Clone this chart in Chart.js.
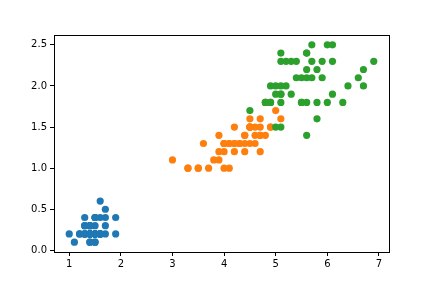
<!DOCTYPE html>
<html>
<head>
<meta charset="utf-8">
<script src="https://cdn.jsdelivr.net/npm/chart.js@4/dist/chart.umd.min.js"></script>
<style>
  html, body { margin: 0; padding: 0; background: #fff; }
  canvas { display: block; }
</style>
</head>
<body>
<canvas id="chart" width="432" height="288"></canvas>
<script>
// iris petal length (x) / petal width (y), one pair of arrays per species
var setosaLength = [1.4,1.4,1.3,1.5,1.4,1.7,1.4,1.5,1.4,1.5,1.5,1.6,1.4,1.1,1.2,1.5,1.3,1.4,1.7,1.5,1.7,1.5,1.0,1.7,1.9,1.6,1.6,1.5,1.4,1.6,1.6,1.5,1.5,1.4,1.5,1.2,1.3,1.4,1.3,1.5,1.3,1.3,1.3,1.6,1.9,1.4,1.6,1.4,1.5,1.4];
var setosaWidth  = [0.2,0.2,0.2,0.2,0.2,0.4,0.3,0.2,0.2,0.1,0.2,0.2,0.1,0.1,0.2,0.4,0.4,0.3,0.3,0.3,0.2,0.4,0.2,0.5,0.2,0.2,0.4,0.2,0.2,0.2,0.2,0.4,0.1,0.2,0.2,0.2,0.2,0.1,0.2,0.2,0.3,0.3,0.2,0.6,0.4,0.3,0.2,0.2,0.2,0.2];

var versicolorLength = [4.7,4.5,4.9,4.0,4.6,4.5,4.7,3.3,4.6,3.9,3.5,4.2,4.0,4.7,3.6,4.4,4.5,4.1,4.5,3.9,4.8,4.0,4.9,4.7,4.3,4.4,4.8,5.0,4.5,3.5,3.8,3.7,3.9,5.1,4.5,4.5,4.7,4.4,4.1,4.0,4.4,4.6,4.0,3.3,4.2,4.2,4.2,4.3,3.0,4.1];
var versicolorWidth  = [1.4,1.5,1.5,1.3,1.5,1.3,1.6,1.0,1.3,1.4,1.0,1.5,1.0,1.4,1.3,1.4,1.5,1.0,1.5,1.1,1.8,1.3,1.5,1.2,1.3,1.4,1.4,1.7,1.5,1.0,1.1,1.0,1.2,1.6,1.5,1.6,1.5,1.3,1.3,1.3,1.2,1.4,1.2,1.0,1.3,1.2,1.3,1.3,1.1,1.3];

var virginicaLength = [6.0,5.1,5.9,5.6,5.8,6.6,4.5,6.3,5.8,6.1,5.1,5.3,5.5,5.0,5.1,5.3,5.5,6.7,6.9,5.0,5.7,4.9,6.7,4.9,5.7,6.0,4.8,4.9,5.6,5.8,6.1,6.4,5.6,5.1,5.6,6.1,5.6,5.5,4.8,5.4,5.6,5.1,5.1,5.9,5.7,5.2,5.0,5.2,5.4,5.1];
var virginicaWidth  = [2.5,1.9,2.1,1.8,2.2,2.1,1.7,1.8,1.8,2.5,2.0,1.9,2.1,2.0,2.4,2.3,1.8,2.2,2.3,1.5,2.3,2.0,2.0,1.8,2.1,1.8,1.8,1.8,2.1,1.6,1.9,2.0,2.2,1.5,1.4,2.3,2.4,1.8,1.8,2.1,2.4,2.3,1.9,2.3,2.5,2.3,1.9,2.0,2.3,1.8];

var xTicks = [1, 2, 3, 4, 5, 6, 7];
var yTicks = [0.0, 0.5, 1.0, 1.5, 2.0, 2.5];

function toPoints( xs, ys )
{
    var pts = [];
    for (var i = 0; i < xs.length; i++) {
        pts.push({ x: xs[i], y: ys[i] });
    }
    return pts;
}

function makeDataset( xs, ys, color, order )
{
    return {
        data: toPoints( xs, ys ),
        backgroundColor: color,
        borderWidth: 0,
        pointRadius: 3.6,
        pointHoverRadius: 3.6,
        order: order
    };
}

// draws the four black spines round the plot area
var frame = {
    id: 'frame',
    afterDatasetsDraw: function(chart) {
        var a = chart.chartArea, ctx = chart.ctx;
        ctx.save();
        ctx.strokeStyle = '#000';
        ctx.lineWidth = 1;
        ctx.strokeRect( Math.round(a.left) + 0.5, Math.round(a.top) + 0.5,
                        Math.round(a.right - a.left), Math.round(a.bottom - a.top) );
        ctx.restore();
    }
};

function fixedTicks( values )
{
    return function(scale) {
        scale.ticks = values.map(function(v) { return { value: v }; });
    };
}

var tickFont = { family: 'DejaVu Sans', size: 10 };

var ctxP = document.getElementById('chart').getContext('2d');
var chart = new Chart(ctxP, {
    type: 'scatter',
    data: {
        datasets: [
            makeDataset( setosaLength, setosaWidth, '#1f77b4', 3 ),
            makeDataset( versicolorLength, versicolorWidth, '#ff7f0e', 2 ),
            makeDataset( virginicaLength, virginicaWidth, '#2ca02c', 1 )
        ]
    },
    options: {
        responsive: false,
        animation: false,
        devicePixelRatio: 1,
        layout: { padding: { left: 0, right: 43, top: 35, bottom: 0 } },
        plugins: { legend: { display: false }, tooltip: { enabled: false } },
        scales: {
            x: {
                type: 'linear',
                min: 0.705,
                max: 7.195,
                afterBuildTicks: fixedTicks( xTicks ),
                afterFit: function(scale) { scale.height = 36; },
                grid: { drawOnChartArea: false, drawTicks: true, tickLength: 4, color: '#000', lineWidth: 1 },
                border: { display: false },
                ticks: { color: '#000', font: tickFont, padding: 2, maxRotation: 0 }
            },
            y: {
                type: 'linear',
                min: -0.02,
                max: 2.62,
                afterBuildTicks: fixedTicks( yTicks ),
                afterFit: function(scale) { scale.width = 54; },
                grid: { drawOnChartArea: false, drawTicks: true, tickLength: 4, color: '#000', lineWidth: 1 },
                border: { display: false },
                ticks: {
                    color: '#000', font: tickFont, padding: 3,
                    callback: function(v) { return Number(v).toFixed(1); }
                }
            }
        }
    },
    plugins: [frame]
});
</script>
</body>
</html>
